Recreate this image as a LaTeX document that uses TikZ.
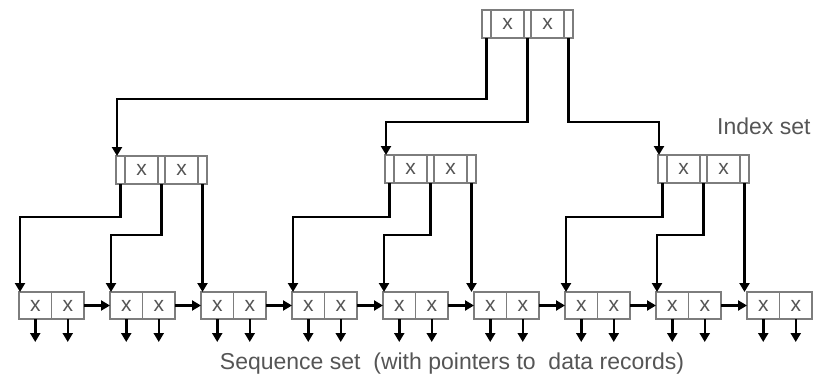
\documentclass[tikz,border=0pt]{standalone}
\usepackage{fontspec}
\setmainfont{Liberation Sans}
\usetikzlibrary{arrows.meta,positioning}
\definecolor{boxgray}{RGB}{125,125,125}
\definecolor{textgray}{RGB}{85,85,85}
\tikzset{
    % Cell styles
    ptrcell/.style={
        rectangle, draw=boxgray, line width=1.2pt,
        minimum width=9pt, minimum height=28pt,
        inner sep=0pt, outer sep=0pt
    },
    midcell/.style={ptrcell, minimum width=7pt},
    keycell/.style={
        ptrcell, minimum width=33pt,
        font=\fontsize{21}{21}\selectfont, text=textgray
    },
    leafcell/.style={keycell, minimum width=32.5pt, minimum height=27pt},
    % Pointer style
    ptr/.style={line width=2.5pt, -{Triangle[width=10pt,length=9pt]}},
    % Caption style
    settext/.style={font=\fontsize{23}{23}\selectfont, text=textgray}
}
% Index node: name, left x, top y
\newcommand{\indexnode}[3]{%
    \node[ptrcell, anchor=north west] (#1p1) at (#2,#3) {};
    \node[keycell, right=0pt of #1p1] (#1k1) {x};
    \node[midcell, right=0pt of #1k1] (#1p2) {};
    \node[keycell, right=0pt of #1p2] (#1k2) {x};
    \node[ptrcell, right=0pt of #1k2] (#1p3) {};
}

\begin{document}
\begin{tikzpicture}[x=1pt, y=-1pt]
\useasboundingbox (0,0) rectangle (816,383);

% Index set
\indexnode{r}{482}{10}
\indexnode{a}{116}{156}
\indexnode{b}{385}{155}
\indexnode{c}{658}{155}
\node[settext, anchor=east] (idxlabel) at (814,126) {Index set};

% Sequence set
\foreach \i in {1,...,9} {
    \node[leafcell, anchor=north west] (la\i) at ({19+91*(\i-1)},292) {x};
    \node[leafcell, right=0pt of la\i] (lb\i) {x};
    \draw[ptr] (la\i.south) -- ++(0,23);
    \draw[ptr] (lb\i.south) -- ++(0,23);
}
\foreach \i [evaluate=\i as \j using int(\i+1)] in {1,...,8}
    \draw[ptr] (lb\i.east) -- (la\j.west);
\node[settext] (seqlabel) at (452,364) {Sequence set\ \ (with pointers to\ \ data records)};

% Root pointers
\draw[ptr] (rp1.south) -- ++(0,61) -| ([xshift=1pt]ap1.north west);
\draw[ptr] (rp2.south) -- ++(0,84) -| ([xshift=1pt]bp1.north west);
\draw[ptr] (rp3.south) -- ++(0,84) -| ([xshift=1pt]cp1.north west);

% Index to sequence pointers
\draw[ptr] (ap1.south) -- ++(0,33) -| ([xshift=1pt]la1.north west);
\draw[ptr] (ap2.south) -- ++(0,51) -| ([xshift=1pt]la2.north west);
\draw[ptr] (ap3.south) -- (ap3.south |- la3.north);
\draw[ptr] (bp1.south) -- ++(0,34) -| ([xshift=1pt]la4.north west);
\draw[ptr] (bp2.south) -- ++(0,52) -| ([xshift=1pt]la5.north west);
\draw[ptr] (bp3.south) -- (bp3.south |- la6.north);
\draw[ptr] (cp1.south) -- ++(0,34) -| ([xshift=1pt]la7.north west);
\draw[ptr] (cp2.south) -- ++(0,52) -| ([xshift=1pt]la8.north west);
\draw[ptr] (cp3.south) -- (cp3.south |- la9.north);

\end{tikzpicture}
\end{document}
